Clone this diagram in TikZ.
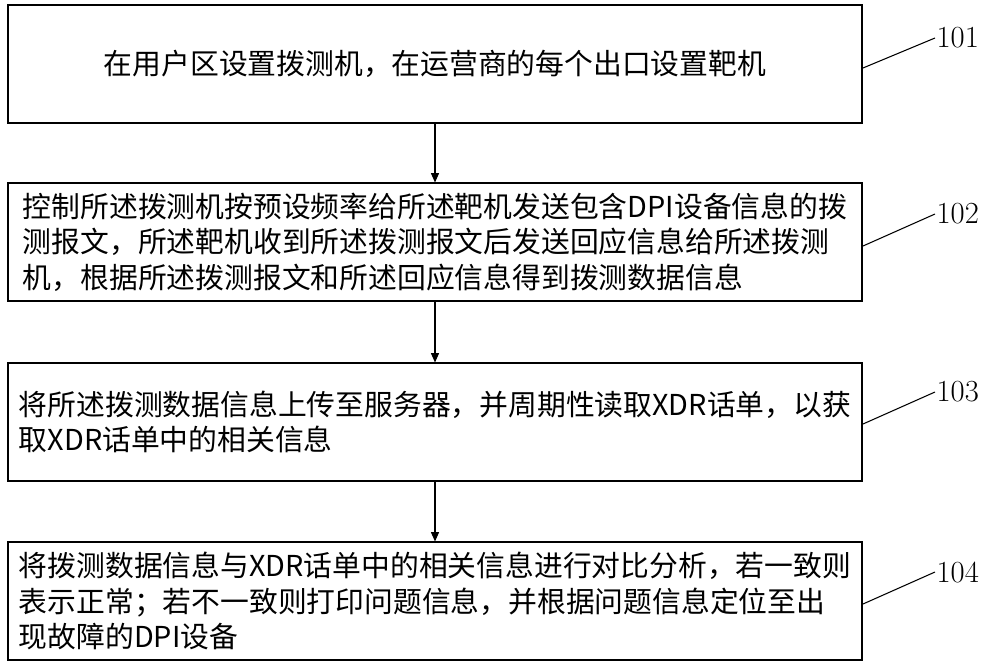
\documentclass[tikz,border=0pt]{standalone}
\usepackage{fontspec}
\newfontfamily\cjk{Noto Sans CJK SC}
\usetikzlibrary{arrows.meta,positioning}
\tikzset{
  stepbox/.style={draw, thick, minimum width=854*0.75pt, minimum height=118*0.75pt, inner sep=0pt, font=\cjk\fontsize{21.6}{26.5}\selectfont},
  flow/.style={-{Triangle[length=7pt,width=6pt]}, thick},
  lead/.style={thick},
  numlab/.style={font=\fontsize{23}{26}\selectfont, anchor=west, inner sep=1pt}
}
\begin{document}
\begin{tikzpicture}[x=0.75pt, y=-0.75pt]
    \useasboundingbox (0,0) rectangle (1000,667);
    % Steps
    \node[stepbox, align=center] (s1) at (435,64) {在用户区设置拨测机，在运营商的每个出口设置靶机};
    \node[stepbox, align=left] (s2) at (435,242) {控制所述拨测机按预设频率给所述靶机发送包含DPI设备信息的拨\\测报文，所述靶机收到所述拨测报文后发送回应信息给所述拨测\\机，根据所述拨测报文和所述回应信息得到拨测数据信息};
    \node[stepbox, align=left] (s3) at (435,422) {将所述拨测数据信息上传至服务器，并周期性读取XDR话单，以获\\取XDR话单中的相关信息};
    \node[stepbox, align=left] (s4) at (435,601) {将拨测数据信息与XDR话单中的相关信息进行对比分析，若一致则\\表示正常；若不一致则打印问题信息，并根据问题信息定位至出\\现故障的DPI设备};
    \draw[flow] (s1) -- (s2);
    \draw[flow] (s2) -- (s3);
    \draw[flow] (s3) -- (s4);
    % Step numbers
    \foreach \n/\y in {1/38, 2/214, 3/392, 4/572} {
        \node[numlab] (n\n) at (935,\y) {10\n};
    }
    \draw[lead] (863,68) -- (n1.west);
    \draw[lead] (863,246) -- (n2.west);
    \draw[lead] (863,424) -- (n3.west);
    \draw[lead] (863,604) -- (n4.west);
\end{tikzpicture}
\end{document}
